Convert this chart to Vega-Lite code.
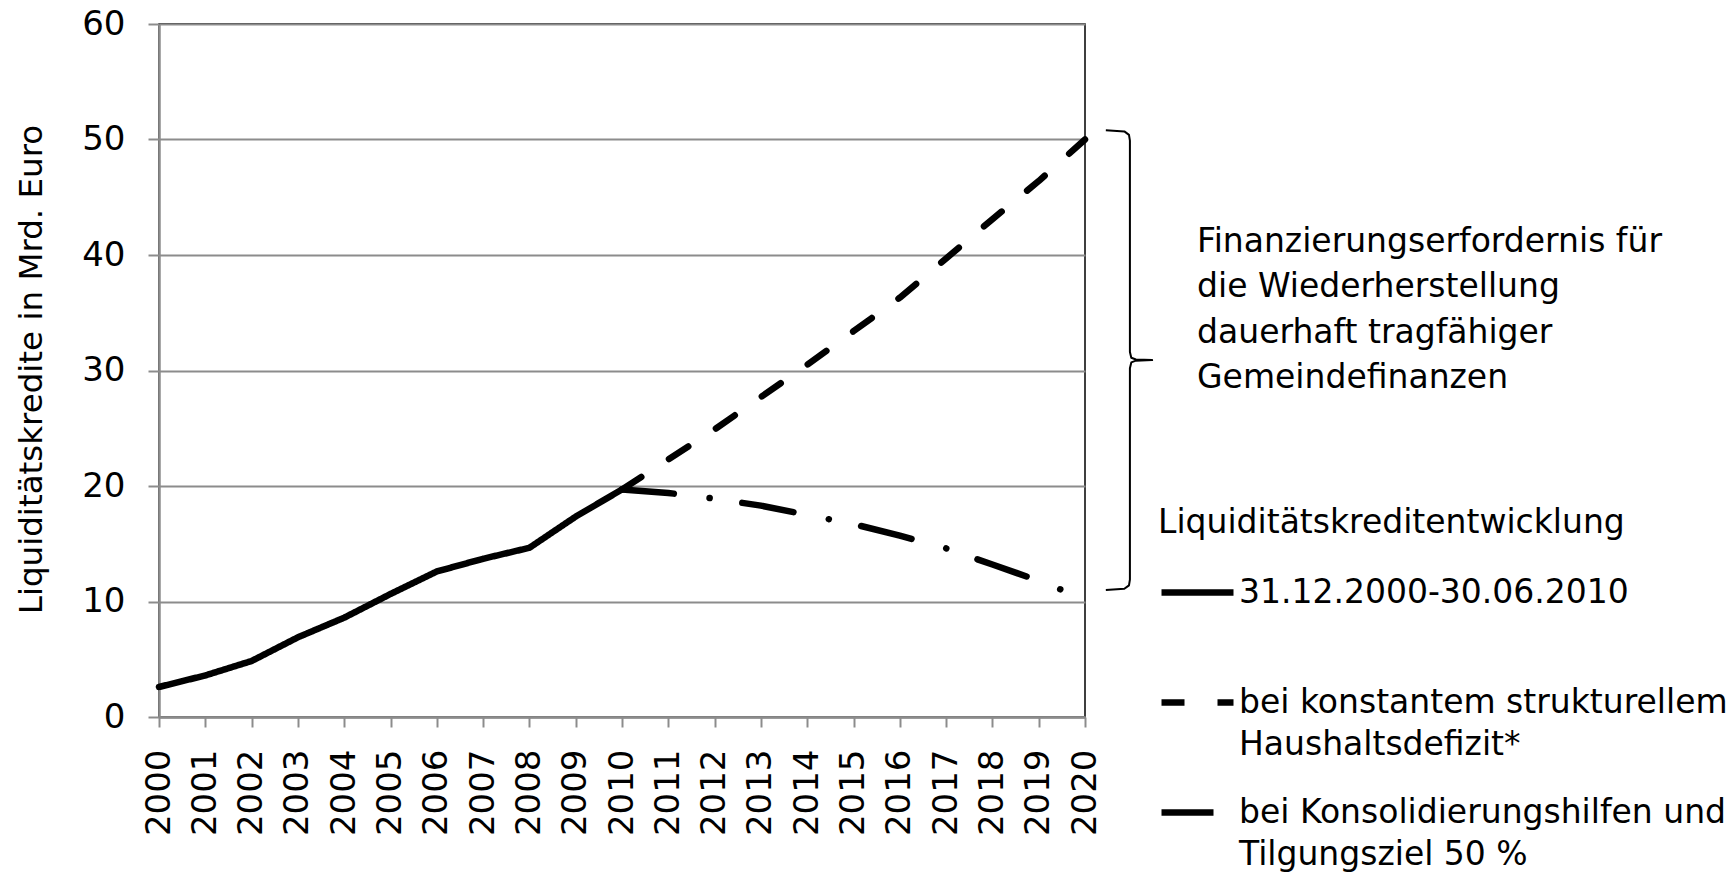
{
  "$schema": "https://vega.github.io/schema/vega-lite/v6.json",
  "width": 926,
  "height": 693,
  "autosize": {"type": "none"},
  "padding": {"left": 159, "top": 24, "right": 648, "bottom": 158},
  "background": "white",
  "config": {
    "font": "DejaVu Sans",
    "view": {"stroke": "black", "strokeWidth": 1.5},
    "axis": {
      "labelFont": "DejaVu Sans",
      "labelFontSize": 34,
      "labelColor": "black",
      "titleFont": "DejaVu Sans",
      "titleFontSize": 32.5,
      "titleFontWeight": "normal",
      "titleColor": "black",
      "domainColor": "#8c8c8c",
      "domainWidth": 2.5,
      "tickColor": "#8c8c8c",
      "tickWidth": 2,
      "gridColor": "#8c8c8c",
      "gridWidth": 1.8
    }
  },
  "datasets": {
    "reihen": [
      {"Reihe": "31.12.2000-30.06.2010", "Jahr": 2000, "Wert": 2.6},
      {"Reihe": "31.12.2000-30.06.2010", "Jahr": 2001, "Wert": 3.6},
      {"Reihe": "31.12.2000-30.06.2010", "Jahr": 2002, "Wert": 4.85},
      {"Reihe": "31.12.2000-30.06.2010", "Jahr": 2003, "Wert": 6.9},
      {"Reihe": "31.12.2000-30.06.2010", "Jahr": 2004, "Wert": 8.6},
      {"Reihe": "31.12.2000-30.06.2010", "Jahr": 2005, "Wert": 10.65},
      {"Reihe": "31.12.2000-30.06.2010", "Jahr": 2006, "Wert": 12.6},
      {"Reihe": "31.12.2000-30.06.2010", "Jahr": 2007, "Wert": 13.7},
      {"Reihe": "31.12.2000-30.06.2010", "Jahr": 2008, "Wert": 14.65},
      {"Reihe": "31.12.2000-30.06.2010", "Jahr": 2009, "Wert": 17.35},
      {"Reihe": "31.12.2000-30.06.2010", "Jahr": 2010, "Wert": 19.7},
      {"Reihe": "bei konstantem strukturellem|Haushaltsdefizit*", "Jahr": 2010, "Wert": 19.7},
      {"Reihe": "bei konstantem strukturellem|Haushaltsdefizit*", "Jahr": 2011, "Wert": 22.3},
      {"Reihe": "bei konstantem strukturellem|Haushaltsdefizit*", "Jahr": 2012, "Wert": 24.9},
      {"Reihe": "bei konstantem strukturellem|Haushaltsdefizit*", "Jahr": 2013, "Wert": 27.7},
      {"Reihe": "bei konstantem strukturellem|Haushaltsdefizit*", "Jahr": 2014, "Wert": 30.5},
      {"Reihe": "bei konstantem strukturellem|Haushaltsdefizit*", "Jahr": 2015, "Wert": 33.4},
      {"Reihe": "bei konstantem strukturellem|Haushaltsdefizit*", "Jahr": 2016, "Wert": 36.3},
      {"Reihe": "bei konstantem strukturellem|Haushaltsdefizit*", "Jahr": 2017, "Wert": 39.7},
      {"Reihe": "bei konstantem strukturellem|Haushaltsdefizit*", "Jahr": 2018, "Wert": 43.1},
      {"Reihe": "bei konstantem strukturellem|Haushaltsdefizit*", "Jahr": 2019, "Wert": 46.4},
      {"Reihe": "bei konstantem strukturellem|Haushaltsdefizit*", "Jahr": 2020, "Wert": 50.0},
      {"Reihe": "bei Konsolidierungshilfen und|Tilgungsziel 50 %", "Jahr": 2010, "Wert": 19.7},
      {"Reihe": "bei Konsolidierungshilfen und|Tilgungsziel 50 %", "Jahr": 2011, "Wert": 19.4},
      {"Reihe": "bei Konsolidierungshilfen und|Tilgungsziel 50 %", "Jahr": 2012, "Wert": 18.9},
      {"Reihe": "bei Konsolidierungshilfen und|Tilgungsziel 50 %", "Jahr": 2013, "Wert": 18.3},
      {"Reihe": "bei Konsolidierungshilfen und|Tilgungsziel 50 %", "Jahr": 2014, "Wert": 17.5},
      {"Reihe": "bei Konsolidierungshilfen und|Tilgungsziel 50 %", "Jahr": 2015, "Wert": 16.7},
      {"Reihe": "bei Konsolidierungshilfen und|Tilgungsziel 50 %", "Jahr": 2016, "Wert": 15.7},
      {"Reihe": "bei Konsolidierungshilfen und|Tilgungsziel 50 %", "Jahr": 2017, "Wert": 14.6},
      {"Reihe": "bei Konsolidierungshilfen und|Tilgungsziel 50 %", "Jahr": 2018, "Wert": 13.2},
      {"Reihe": "bei Konsolidierungshilfen und|Tilgungsziel 50 %", "Jahr": 2019, "Wert": 11.8},
      {"Reihe": "bei Konsolidierungshilfen und|Tilgungsziel 50 %", "Jahr": 2019.5, "Wert": 11.0}
    ],
    "klammer": [
      {"i": 1, "x": 2020.45, "y": 50.8},
      {"i": 2, "x": 2020.85, "y": 50.7},
      {"i": 3, "x": 2020.95, "y": 50.4},
      {"i": 4, "x": 2020.97, "y": 49.9},
      {"i": 5, "x": 2020.97, "y": 31.6},
      {"i": 6, "x": 2021.0, "y": 31.1},
      {"i": 7, "x": 2021.1, "y": 30.95},
      {"i": 8, "x": 2021.45, "y": 30.9},
      {"i": 9, "x": 2021.1, "y": 30.85},
      {"i": 10, "x": 2021.0, "y": 30.7},
      {"i": 11, "x": 2020.97, "y": 30.2},
      {"i": 12, "x": 2020.97, "y": 11.9},
      {"i": 13, "x": 2020.95, "y": 11.4},
      {"i": 14, "x": 2020.85, "y": 11.1},
      {"i": 15, "x": 2020.45, "y": 11.0}
    ],
    "notiz": [
      {"Text": "Finanzierungserfordernis für|die Wiederherstellung|dauerhaft tragfähiger|Gemeindefinanzen"}
    ]
  },
  "layer": [
    {
      "data": {"name": "reihen"},
      "mark": {"type": "line", "strokeWidth": 6.5, "strokeCap": "round", "strokeJoin": "round", "color": "black", "clip": false},
      "encoding": {
        "x": {
          "field": "Jahr", "type": "quantitative",
          "scale": {"domain": [2000, 2020], "nice": false, "zero": false},
          "axis": {
            "values": [2000, 2001, 2002, 2003, 2004, 2005, 2006, 2007, 2008, 2009, 2010, 2011, 2012, 2013, 2014, 2015, 2016, 2017, 2018, 2019, 2020],
            "format": "d", "labelAngle": -90, "tickSize": 10, "labelPadding": 22,
            "grid": false, "title": null, "labelFlush": false, "labelOverlap": false
          }
        },
        "y": {
          "field": "Wert", "type": "quantitative",
          "scale": {"domain": [0, 60], "nice": false},
          "axis": {
            "values": [0, 10, 20, 30, 40, 50, 60],
            "tickSize": 11, "labelPadding": 23, "grid": true,
            "title": "Liquiditätskredite in Mrd. Euro",
            "titleX": -128, "titleY": 345, "titleAngle": -90,
            "titleAlign": "center", "titleBaseline": "middle"
          }
        },
        "strokeDash": {
          "field": "Reihe", "type": "nominal",
          "scale": {
            "domain": ["31.12.2000-30.06.2010", "bei konstantem strukturellem|Haushaltsdefizit*", "bei Konsolidierungshilfen und|Tilgungsziel 50 %"],
            "range": [[1, 0], [23, 33], [52, 36, 0.1, 33]]
          },
          "legend": {
            "orient": "none", "legendX": 999, "legendY": 483,
            "title": "Liquiditätskreditentwicklung",
            "titleFont": "DejaVu Sans", "titleFontSize": 33, "titleFontWeight": "normal", "titleColor": "black",
            "titlePadding": 13, "titleLimit": 800,
            "labelFont": "DejaVu Sans", "labelFontSize": 33, "labelColor": "black",
            "labelExpr": "split(datum.label, '|')",
            "labelLimit": 800, "labelOffset": 2,
            "symbolType": "stroke", "symbolSize": 5184, "symbolStrokeWidth": 6.5, "symbolStrokeColor": "black",
            "rowPadding": 11, "gridAlign": "all",
            "encode": {"labels": {"update": {"lineHeight": {"value": 42}}}}
          }
        }
      }
    },
    {
      "data": {"name": "klammer"},
      "mark": {"type": "line", "strokeWidth": 2, "color": "black", "clip": false, "strokeJoin": "round"},
      "encoding": {
        "x": {"field": "x", "type": "quantitative", "axis": {"title": null}},
        "y": {"field": "y", "type": "quantitative", "axis": {"title": "Liquiditätskredite in Mrd. Euro"}},
        "order": {"field": "i", "type": "quantitative"}
      }
    },
    {
      "data": {"name": "notiz"},
      "transform": [{"calculate": "split(datum.Text, '|')", "as": "Zeilen"}],
      "mark": {
        "type": "text", "align": "left", "baseline": "alphabetic", "fontSize": 33, "lineHeight": 45.5,
        "font": "DejaVu Sans", "color": "black", "clip": false
      },
      "encoding": {
        "x": {"datum": 2022.42, "type": "quantitative", "axis": {"title": null}},
        "y": {"datum": 40.26, "type": "quantitative", "axis": {"title": "Liquiditätskredite in Mrd. Euro"}},
        "text": {"field": "Zeilen"}
      }
    }
  ]
}
